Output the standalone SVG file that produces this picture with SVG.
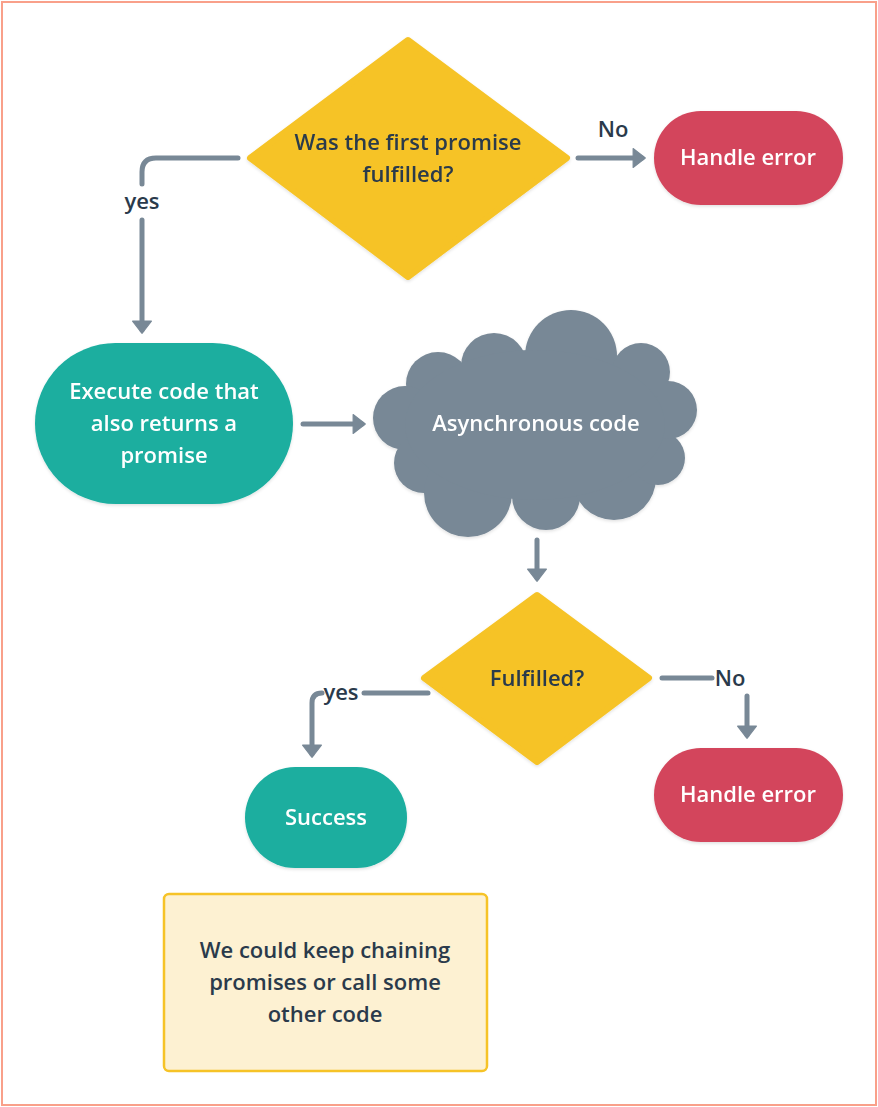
<svg xmlns="http://www.w3.org/2000/svg" width="878" height="1107" viewBox="0 0 878 1107">
  <style>
    .t { font-family: "Open Sans", "Noto Sans", "Liberation Sans", sans-serif; font-size: 22px; font-weight: 600; text-anchor: middle; }
    .dark { fill: #2A3A4B; }
    .light { fill: #FFFFFF; }
    .conn { fill: none; stroke: #788896; stroke-width: 5; stroke-linecap: round; stroke-linejoin: round; }
    .yellow { fill: #F6C327; stroke: #F6C327; stroke-width: 6; stroke-linejoin: round; }
    .teal { fill: #1AAE9F; }
    .red { fill: #D3455B; }
    .cloud { fill: #788896; }
  </style>
  <defs>
    <filter id="sh" x="-10%" y="-10%" width="120%" height="125%">
      <feDropShadow dx="0" dy="1.5" stdDeviation="1.5" flood-color="#000" flood-opacity="0.12"/>
    </filter>
    <marker id="ah" markerUnits="userSpaceOnUse" markerWidth="14" markerHeight="20" viewBox="0 0 12 18" refX="8.5" refY="9" orient="auto">
      <path d="M0.5,0.5 L11.5,9 L0.5,17.5 Z" fill="#788896" stroke="#788896" stroke-width="1" stroke-linejoin="round"/>
    </marker>
  </defs>

  <rect x="2" y="2" width="874" height="1103" fill="#FFFFFF" stroke="#F9A08A" stroke-width="2"/>

  <g id="connectors">
    <path class="conn" d="M238,158 L156,158 Q142,158 142,172 L142,184"/>
    <path class="conn" d="M142,220 L142,330" marker-end="url(#ah)"/>
    <text class="t dark" x="142" y="209">yes</text>

    <path class="conn" d="M578,158 L642,158" marker-end="url(#ah)"/>
    <text class="t dark" x="613" y="137">No</text>

    <path class="conn" d="M303,424 L362,424" marker-end="url(#ah)"/>

    <path class="conn" d="M537,540 L537,578" marker-end="url(#ah)"/>

    <path class="conn" d="M428,693 L364,693"/>
    <text class="t dark" x="341" y="700">yes</text>
    <path class="conn" d="M322,693 Q312,693 312,703 L312,754" marker-end="url(#ah)"/>

    <path class="conn" d="M662,678 L712,678"/>
    <text class="t dark" x="730" y="686">No</text>
    <path class="conn" d="M747,696 L747,735" marker-end="url(#ah)"/>
  </g>

  <g id="decision1" filter="url(#sh)">
    <polygon class="yellow" points="408,40 567,158 408,277 250,158"/>
    <text class="t dark" x="408" y="150">Was the first promise</text>
    <text class="t dark" x="408" y="182">fulfilled?</text>
  </g>

  <g id="error1" filter="url(#sh)">
    <rect class="red" x="654" y="111" width="189" height="94" rx="47"/>
    <text class="t light" x="748" y="165">Handle error</text>
  </g>

  <g id="execute" filter="url(#sh)">
    <rect class="teal" x="35" y="343" width="258" height="161" rx="80.5"/>
    <text class="t light" x="164" y="399">Execute code that</text>
    <text class="t light" x="164" y="431">also returns a</text>
    <text class="t light" x="164" y="463">promise</text>
  </g>

  <g id="async" filter="url(#sh)">
    <g class="cloud">
      <circle cx="571" cy="356" r="46"/>
      <circle cx="494" cy="366" r="33"/>
      <circle cx="438" cy="384" r="32"/>
      <circle cx="405" cy="418" r="32"/>
      <circle cx="424" cy="463" r="30"/>
      <circle cx="468" cy="493" r="44"/>
      <circle cx="546" cy="496" r="34"/>
      <circle cx="614" cy="478" r="42"/>
      <circle cx="658" cy="458" r="27"/>
      <circle cx="668" cy="410" r="29"/>
      <circle cx="641" cy="372" r="29"/>
      <ellipse cx="535" cy="425" rx="130" ry="75"/>
    </g>
    <text class="t light" x="536" y="431">Asynchronous code</text>
  </g>

  <g id="decision2" filter="url(#sh)">
    <polygon class="yellow" points="537,595 649,678 537,762 424,678"/>
    <text class="t dark" x="537" y="686">Fulfilled?</text>
  </g>

  <g id="success" filter="url(#sh)">
    <rect class="teal" x="245" y="767" width="162" height="101" rx="50.5"/>
    <text class="t light" x="326" y="825">Success</text>
  </g>

  <g id="error2" filter="url(#sh)">
    <rect class="red" x="654" y="748" width="189" height="94" rx="47"/>
    <text class="t light" x="748" y="802">Handle error</text>
  </g>

  <g id="note">
    <rect x="164" y="894" width="323" height="177" rx="5" fill="#FDF1D2" stroke="#F6C327" stroke-width="2.5"/>
    <text class="t dark" x="325" y="958">We could keep chaining</text>
    <text class="t dark" x="325" y="990">promises or call some</text>
    <text class="t dark" x="325" y="1022">other code</text>
  </g>
</svg>
